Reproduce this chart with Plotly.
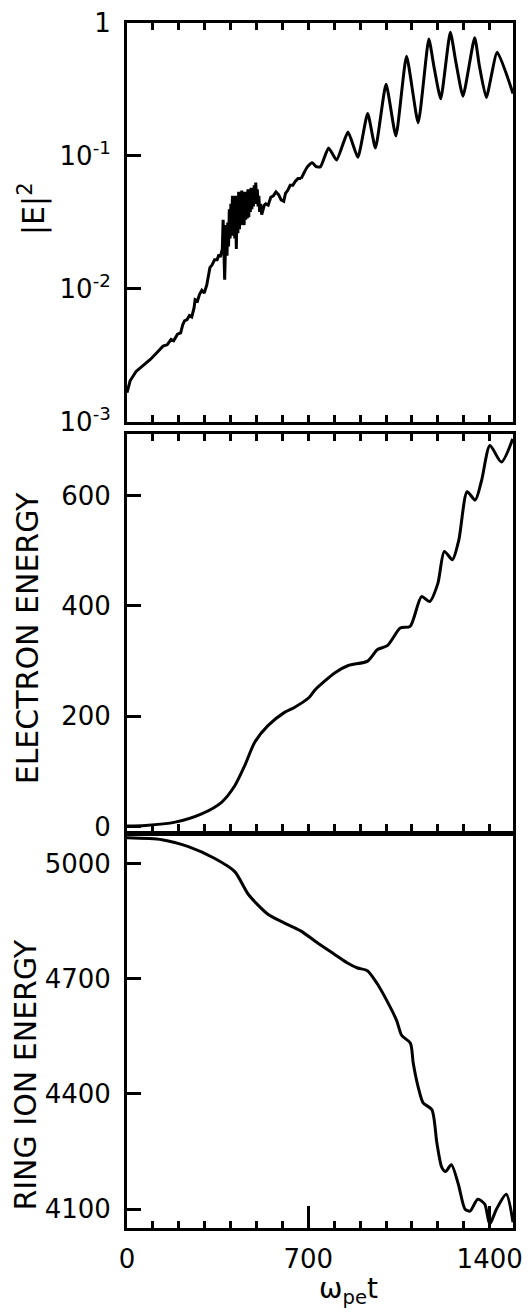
import plotly.graph_objects as go

# ---------------- data ----------------
# Panel 1: |E|^2 (given as log10 of the value) vs omega_pe t
E2_t = [0, 12, 35, 60, 90, 115, 139, 155, 170, 180, 195, 207, 215, 222, 232, 241, 250,
        259, 263, 272, 280, 289, 298, 308, 313, 320, 328, 338, 348, 355, 360, 365, 368,
        371, 374, 377, 380, 383, 386, 389, 392, 395, 398, 401, 404, 407, 410, 413, 416,
        419, 422, 425, 428, 431, 434, 437, 440, 443, 446, 449, 452, 455, 458, 461, 464,
        467, 470, 473, 476, 479, 482, 485, 488, 491, 494, 497, 500, 503, 506, 509, 512,
        516, 520, 525, 530, 535, 545, 555, 565, 575, 585, 595, 605, 612, 620, 630, 640,
        650, 660, 672, 685, 697, 715, 730, 747, 778, 809, 853, 891, 929, 959, 1000, 1038,
        1079, 1124, 1165, 1185, 1211, 1248, 1270, 1297, 1342, 1360, 1387, 1429, 1490]
E2_log10 = [-2.78, -2.69, -2.62, -2.58, -2.53, -2.48, -2.43, -2.42, -2.38, -2.39, -2.34,
            -2.33, -2.27, -2.24, -2.23, -2.20, -2.21, -2.14, -2.08, -2.09, -2.04, -2.01,
            -2.03, -1.97, -1.92, -1.84, -1.82, -1.78, -1.78, -1.74, -1.76, -1.73, -1.70,
            -1.48, -1.75, -1.93, -1.70, -1.52, -1.75, -1.50, -1.68, -1.40, -1.62, -1.36,
            -1.60, -1.30, -1.58, -1.32, -1.62, -1.30, -1.70, -1.33, -1.58, -1.27, -1.55,
            -1.30, -1.52, -1.26, -1.50, -1.29, -1.52, -1.27, -1.48, -1.28, -1.47, -1.25,
            -1.46, -1.27, -1.42, -1.24, -1.40, -1.27, -1.38, -1.22, -1.36, -1.20, -1.33,
            -1.25, -1.38, -1.30, -1.42, -1.36, -1.44, -1.40, -1.37, -1.36, -1.37, -1.31,
            -1.30, -1.27, -1.29, -1.33, -1.34, -1.28, -1.26, -1.22, -1.22, -1.19, -1.17,
            -1.17, -1.12, -1.08, -1.05, -1.08, -1.08, -0.94, -1.03, -0.82, -1.01, -0.68,
            -0.94, -0.46, -0.85, -0.25, -0.75, -0.12, -0.33, -0.57, -0.07, -0.30, -0.55,
            -0.11, -0.32, -0.56, -0.22, -0.53]

# Panel 2: electron energy
EL_t = [0, 71, 186, 288, 365, 416, 454, 493, 544, 608, 646, 703, 728, 803, 854, 929, 967,
        1005, 1055, 1093, 1137, 1168, 1200, 1225, 1256, 1281, 1313, 1344, 1369, 1401,
        1445, 1489]
EL_v = [1, 2, 8, 23, 44, 74, 110, 153, 183, 207, 216, 234, 249, 279, 292, 300, 321, 328,
        360, 363, 417, 408, 441, 499, 484, 520, 607, 592, 628, 691, 661, 703]

# Panel 3: ring ion energy
RI_t = [0, 135, 237, 339, 416, 468, 544, 608, 672, 736, 800, 851, 890, 928, 966, 1003,
        1041, 1060, 1094, 1105, 1124, 1143, 1177, 1196, 1215, 1230, 1252, 1279, 1305,
        1324, 1354, 1381, 1400, 1426, 1464, 1490]
RI_v = [5067, 5062, 5044, 5013, 4979, 4920, 4868, 4845, 4824, 4793, 4764, 4741, 4728,
        4721, 4687, 4643, 4591, 4553, 4532, 4480, 4418, 4377, 4359, 4273, 4209, 4198,
        4216, 4165, 4100, 4095, 4126, 4113, 4061, 4100, 4139, 4066]

x_ticks = [0, 700, 1400]
x_ticktext = ["0", "700", "1400"]
E2_ticks = [1e-3, 1e-2, 1e-1, 1]
E2_ticktext = ["10<sup>-3</sup>", "10<sup>-2</sup>", "10<sup>-1</sup>", "1"]
EL_ticks = [0, 200, 400, 600]
RI_ticks = [4100, 4400, 4700, 5000]

E2 = [10 ** v for v in E2_log10]
# noisy early part drawn straight, the later oscillating part smoothed
split = E2_t.index(672)

# ---------------- figure ----------------
FONT = "DejaVu Sans"
LW = 3
CW = 3
fig = go.Figure()
fig.add_trace(go.Scatter(x=E2_t[:split + 1], y=E2[:split + 1], mode="lines",
                         xaxis="x", yaxis="y", line=dict(color="black", width=CW)))
fig.add_trace(go.Scatter(x=E2_t[split:], y=E2[split:], mode="lines",
                         xaxis="x", yaxis="y",
                         line=dict(color="black", width=CW, shape="spline", smoothing=0.5)))
fig.add_trace(go.Scatter(x=EL_t, y=EL_v, mode="lines", xaxis="x2", yaxis="y2",
                         line=dict(color="black", width=CW, shape="spline", smoothing=0.7)))
fig.add_trace(go.Scatter(x=RI_t, y=RI_v, mode="lines", xaxis="x3", yaxis="y3",
                         line=dict(color="black", width=CW, shape="spline", smoothing=0.7)))

XR = [0, 1490]
common_x = dict(range=XR, showline=True, linecolor="black", linewidth=LW,
                ticks="inside", tickvals=x_ticks, ticklen=7, tickwidth=2.5, tickcolor="black",
                minor=dict(dtick=100, tick0=0, ticks="inside", ticklen=7, tickwidth=2.5,
                           tickcolor="black"),
                showgrid=False, zeroline=False)
common_y = dict(showline=True, linecolor="black", linewidth=LW, mirror=True,
                ticks="inside", ticklen=14, tickwidth=3, tickcolor="black",
                showgrid=False, zeroline=False, ticklabelstandoff=8,
                tickfont=dict(family=FONT, size=26, color="black"))

d1 = [0.6689, 1.0]
d2 = [0.3295, 0.6590]
d3 = [0.0, 0.3254]

fig.update_layout(
    width=530, height=1315,
    margin=dict(l=127, r=8, t=17, b=87),
    paper_bgcolor="white", plot_bgcolor="white",
    showlegend=False,
    xaxis=dict(common_x, domain=[0, 1], anchor="y", mirror="ticks", showticklabels=False),
    yaxis=dict(common_y, domain=d1, anchor="x", type="log", range=[-3, 0],
               tickvals=E2_ticks, ticktext=E2_ticktext),
    xaxis2=dict(common_x, domain=[0, 1], anchor="y2", mirror="ticks", showticklabels=False),
    yaxis2=dict(common_y, domain=d2, anchor="x2", range=[-8, 712], tickvals=EL_ticks),
    xaxis3=dict(common_x, domain=[0, 1], anchor="y3", mirror=True, ticklen=22,
                showticklabels=True, ticktext=x_ticktext, ticklabelstandoff=6,
                tickfont=dict(family=FONT, size=26, color="black")),
    xaxis4=dict(range=XR, overlaying="x3", anchor="y3", side="top", showline=False,
                ticks="inside", tickvals=x_ticks, ticklen=7, tickwidth=2.5, tickcolor="black",
                minor=dict(dtick=100, tick0=0, ticks="inside", ticklen=7, tickwidth=2.5,
                           tickcolor="black"),
                showticklabels=False, showgrid=False, zeroline=False),
    yaxis3=dict(common_y, domain=d3, anchor="x3", range=[4051, 5072], tickvals=RI_ticks),
)

title_font = dict(family=FONT, size=30, color="black")
fig.add_annotation(text="|E|<sup>2</sup>", xref="paper", yref="paper", x=-0.245, y=0.846,
                   textangle=-90, showarrow=False, font=title_font,
                   xanchor="center", yanchor="middle")
fig.add_annotation(text="ELECTRON ENERGY", xref="paper", yref="paper", x=-0.258, y=0.4897,
                   textangle=-90, showarrow=False, font=title_font,
                   xanchor="center", yanchor="middle")
fig.add_annotation(text="RING ION ENERGY", xref="paper", yref="paper", x=-0.262, y=0.1272,
                   textangle=-90, showarrow=False, font=title_font,
                   xanchor="center", yanchor="middle")
fig.add_annotation(text="ω<sub>pe</sub>t", xref="paper", yref="paper", x=0.575, y=-0.052,
                   showarrow=False, font=dict(family=FONT, size=28, color="black"),
                   xanchor="center", yanchor="middle")

fig.write_html("out.html")
